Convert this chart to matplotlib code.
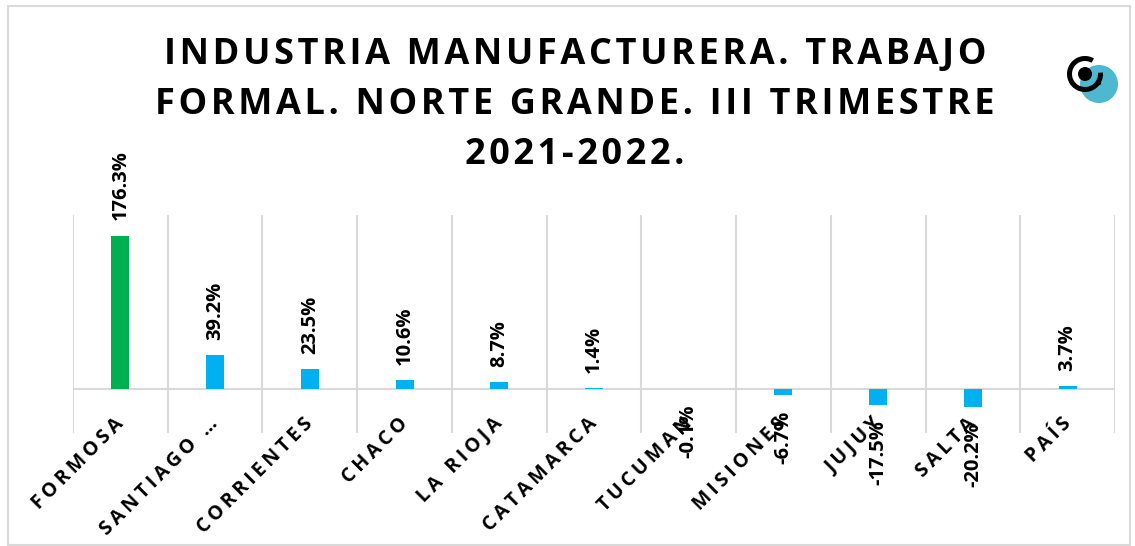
import matplotlib
matplotlib.use("Agg")
import matplotlib.pyplot as plt
from matplotlib.patches import Rectangle, Circle, Arc

# data
provincias = ['FORMOSA', 'SANTIAGO …', 'CORRIENTES', 'CHACO', 'LA RIOJA', 'CATAMARCA',
              'TUCUMAN', 'MISIONES', 'JUJUY', 'SALTA', 'PAÍS']
variacion = [176.3, 39.2, 23.5, 10.6, 8.7, 1.4, -0.1, -6.7, -17.5, -20.2, 3.7]
colores = ['#00B050'] + ['#00B0F0'] * 10
titulo = ["INDUSTRIA MANUFACTURERA. TRABAJO",
          "FORMAL. NORTE GRANDE. III TRIMESTRE",
          "2021-2022."]

plt.rcParams['font.family'] = ['Open Sans', 'DejaVu Sans']


def espaciar(s, sep):
    # poor man's letter spacing
    return sep.join(s)


W, H = 1135, 546
fig = plt.figure(figsize=(W / 100, H / 100), dpi=100)

# overlay in pixel units for border and logo
over = fig.add_axes([0, 0, 1, 1], zorder=0)
over.set_xlim(0, W)
over.set_ylim(H, 0)
over.axis('off')
over.add_patch(Rectangle((8, 6), 1122, 539, fill=False, ec='#d9d9d9', lw=1.5))
over.add_patch(Circle((1099, 84), 19, color='#4DB8CF', lw=0))
over.add_patch(Arc((1085, 74), 31, 31, theta1=-5, theta2=300, color='black', lw=3.6))
over.add_patch(Circle((1085, 74), 7, color='black', lw=0))
over.add_patch(Circle((1099, 83), 2.2, color='black', lw=0))

ax = fig.add_axes([73 / W, (H - 433) / H, (1115 - 73) / W, (433 - 215) / H], zorder=1)
ax.patch.set_alpha(0)
x = range(len(provincias))
ax.bar(x, variacion, width=0.19, color=colores, zorder=3)
ax.set_xlim(-0.5, len(provincias) - 0.5)
ax.set_ylim(-50, 200)
for b in range(len(provincias) + 1):
    ax.axvline(b - 0.5, color='#d9d9d9', lw=1.5, zorder=1)
ax.axhline(0, color='#d9d9d9', lw=1.5, zorder=2)
for s in ax.spines.values():
    s.set_visible(False)
ax.set_xticks([])
ax.set_yticks([])

for i, v in enumerate(variacion):
    if v >= 0:
        ax.annotate(f"{v}%", (i, v), xytext=(0, 11), textcoords='offset points',
                    rotation=90, ha='center', va='bottom', fontsize=14.5,
                    fontweight='bold', zorder=4)
    else:
        ax.annotate(f"{v}%", (i, v), xytext=(0, -11), textcoords='offset points',
                    rotation=90, ha='center', va='top', fontsize=14.5,
                    fontweight='bold', zorder=4)

for i, p in enumerate(provincias):
    ax.annotate(espaciar(p, '\u2009'), (i, 0), xytext=(-5, -17.5),
                textcoords='offset points', rotation=45, ha='right', va='top',
                rotation_mode='anchor', fontsize=14, fontweight='bold', zorder=4)

for k, linea in enumerate(titulo):
    fig.text(575 / W, 1 - (55 + 50 * k) / H, espaciar(linea, '\u200a'),
             ha='center', va='center', fontsize=26, fontweight='bold')

fig.savefig('out.png', dpi=100)
